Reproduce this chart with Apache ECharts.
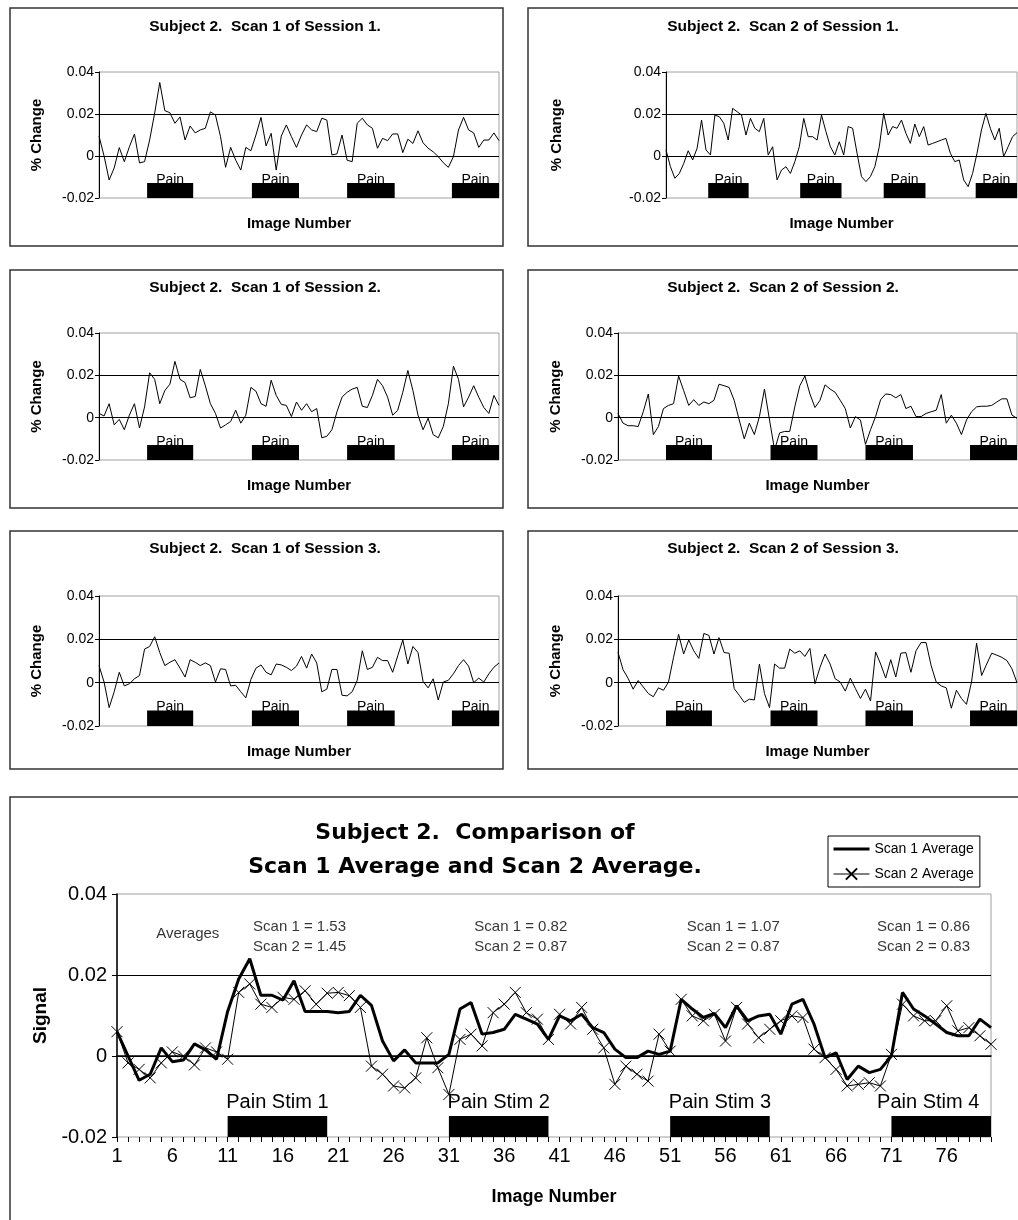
<!DOCTYPE html>
<html>
<head>
<meta charset="utf-8">
<title>Subject 2 - pain scans</title>
<script src="https://cdn.jsdelivr.net/npm/echarts@6/dist/echarts.min.js"></script>
<style>
html, body { margin: 0; padding: 0; background: #fff; }
#main { width: 1018px; height: 1220px; }
</style>
</head>
<body>
<div id="main"></div>
<script>
// % change per image (80 images per scan)
var scan1Session1 = [
    0.0095, 0, -0.0114, -0.0057, 0.004, -0.0027, 0.0044, 0.0105, -0.0033, -0.0027,
    0.0076, 0.0205, 0.035, 0.0216, 0.0206, 0.0156, 0.0186, 0.0076, 0.0143, 0.011,
    0.0124, 0.0132, 0.021, 0.0195, 0.0092, -0.0054, 0.0041, -0.002, -0.0067, 0.0041,
    0.0025, 0.01, 0.0184, 0.0048, 0.0108, -0.0067, 0.0095, 0.0148, 0.0092, 0.0041,
    0.01, 0.0148, 0.0124, 0.0116, 0.018, 0.0171, 0.0005, 0.001, 0.01, -0.002,
    -0.0027, 0.0156, 0.018, 0.0148, 0.0132, 0.0037, 0.0084, 0.0073, 0.0105, 0.0105,
    0.0016, 0.008, 0.006, 0.012, 0.0063, 0.0037, 0.002, -0.0003, -0.0032, -0.0054,
    -0.0003, 0.0124, 0.0184, 0.0124, 0.011, 0.0041, 0.0076, 0.0076, 0.011, 0.0073
];
var scan2Session1 = [
    0.0029, -0.0051, -0.0106, -0.0083, -0.0035, 0.0025, -0.0019, 0.0037, 0.0171, 0.0029,
    0.0005, 0.0195, 0.0187, 0.0156, 0.0076, 0.0227, 0.0211, 0.0195, 0.01, 0.0179,
    0.0132, 0.0116, 0.0179, 0.0005, 0.0044, -0.0114, -0.0067, -0.0051, -0.0083, -0.0027,
    0.0044, 0.0179, 0.0092, 0.0092, 0.0076, 0.0195, 0.0116, 0.0044, 0.0005, 0.0068,
    0.0005, 0.014, 0.0132, 0.0013, -0.0098, -0.0122, -0.0098, -0.0051, 0.0044, 0.0203,
    0.01, 0.014, 0.0132, 0.0171, 0.0108, 0.006, 0.0152, 0.0092, 0.014, 0.0052,
    0.006, 0.0068, 0.0076, 0.0084, 0.0013, -0.0027, -0.0019, -0.0114, -0.0146, -0.0083,
    0.0013, 0.0124, 0.0203, 0.0132, 0.0076, 0.0132, -0.0003, 0.0044, 0.0092, 0.0111
];
var scan1Session2 = [
    0.002, 0.0008, 0.0066, -0.0034, -0.0008, -0.0057, 0.0012, 0.0066, -0.0049, 0.0051,
    0.0212, 0.0181, 0.0066, 0.0128, 0.0158, 0.0266, 0.0181, 0.0166, 0.0094, 0.01,
    0.0228, 0.0151, 0.0066, 0.002, -0.0049, -0.0034, -0.0018, 0.0035, -0.0026, 0.0012,
    0.0143, 0.0125, 0.0066, 0.0054, 0.0177, 0.0105, 0.0063, 0.0058, 0.0005, 0.0074,
    0.0035, 0.0066, 0.0028, 0.0043, -0.0095, -0.0088, -0.0057, 0.0028, 0.0097, 0.012,
    0.0135, 0.0143, 0.0054, 0.0048, 0.0105, 0.0181, 0.0151, 0.0097, 0.0012, 0.0035,
    0.012, 0.0223, 0.0128, 0.0012, -0.0057, -0.0003, -0.008, -0.0095, -0.0042, 0.0066,
    0.0243, 0.0181, 0.0051, 0.0097, 0.0151, 0.0097, 0.0048, 0.002, 0.0105, 0.0058
];
var scan2Session2 = [
    0.002, -0.0026, -0.0038, -0.0038, -0.0042, 0.0028, 0.0112, -0.008, -0.0042, 0.0043,
    0.0058, 0.0066, 0.0197, 0.0128, 0.0058, 0.0085, 0.0058, 0.0074, 0.0066, 0.0082,
    0.0158, 0.0151, 0.0143, 0.0082, -0.0011, -0.01, -0.0026, -0.008, 0.0005, 0.0135,
    -0.0011, -0.0152, -0.0072, -0.0065, -0.0065, 0.0051, 0.0151, 0.0197, 0.0112, 0.0048,
    0.0082, 0.0155, 0.0135, 0.012, 0.0082, 0.0043, -0.0049, 0.0005, -0.0011, -0.0126,
    -0.0057, 0.0005, 0.0085, 0.0112, 0.0109, 0.0094, 0.0109, 0.0043, 0.0054, 0.0005,
    0.0005, 0.002, 0.0028, 0.0035, 0.0109, -0.0026, 0.0012, -0.0026, -0.008, -0.0011,
    0.0028, 0.0051, 0.0054, 0.0054, 0.0058, 0.0074, 0.0089, 0.0089, 0.0012, -0.0003
];
var scan1Session3 = [
    0.0079, 0.0003, -0.0115, -0.0042, 0.0048, -0.0015, -0.0005, 0.0018, 0.0033, 0.0155,
    0.0167, 0.0212, 0.0139, 0.0079, 0.0094, 0.0106, 0.0067, 0.0026, 0.0106, 0.0094,
    0.0079, 0.0091, 0.0079, 0.0003, 0.0064, 0.0061, -0.0015, -0.0012, -0.0042, -0.007,
    0.0015, 0.0067, 0.0082, 0.0048, 0.0036, 0.0086, 0.0082, 0.0071, 0.0056, 0.0076,
    0.0121, 0.0067, 0.0132, 0.0091, -0.0042, -0.003, 0.0061, 0.0061, -0.0058, -0.0061,
    -0.0042, 0.0011, 0.0147, 0.0061, 0.0071, 0.0117, 0.0102, 0.0102, 0.0048, 0.0124,
    0.0197, 0.0086, 0.0167, 0.0139, 0.0006, -0.0024, 0.0018, -0.008, 0.0003, 0.0011,
    0.0041, 0.0079, 0.0106, 0.0076, 0, 0.0021, 0.0003, 0.0041, 0.0071, 0.0091
];
var scan2Session3 = [
    0.014, 0.006, 0.002, -0.003, 0.001, -0.002, -0.005, -0.0065, -0.0024, -0.0035,
    0.0003, 0.0117, 0.0223, 0.0132, 0.0197, 0.0147, 0.0112, 0.0227, 0.0218, 0.0132,
    0.0208, 0.0139, 0.0136, -0.0027, -0.0058, -0.0091, -0.0076, -0.008, 0.0086, -0.005,
    -0.0115, 0.0086, 0.0067, 0.0067, 0.0155, 0.0136, 0.0147, 0.0121, 0.0158, -0.0005,
    0.0071, 0.0132, 0.0086, 0.0018, 0.0003, -0.0039, 0.0021, -0.0027, -0.0073, -0.003,
    -0.0085, 0.0142, 0.0086, 0.0021, 0.0106, 0.0026, 0.0136, 0.0139, 0.0048, 0.0147,
    0.0185, 0.0185, 0.0079, 0.0003, -0.0015, -0.0024, -0.0118, -0.0035, -0.0073, -0.01,
    0.0003, 0.0182, 0.0033, 0.0086, 0.0136, 0.0127, 0.0117, 0.0102, 0.0064, 0
];

// averages over the three sessions
var scan1Average = [
    0.006, 0, -0.006, -0.0045, 0.002, -0.0014, -0.001, 0.003, 0.0015, -0.0008,
    0.011, 0.019, 0.024, 0.015, 0.015, 0.0138, 0.0186, 0.011, 0.011, 0.011,
    0.0107, 0.011, 0.015, 0.0125, 0.0037, -0.0012, 0.0015, -0.0017, -0.0017, -0.0017,
    0.0004, 0.0116, 0.0132, 0.0054, 0.0058, 0.0066, 0.0103, 0.0091, 0.0079, 0.0041,
    0.0099, 0.0087, 0.0103, 0.007, 0.0058, 0.0017, -0.0004, -0.0004, 0.0012, 0.0004,
    0.0012, 0.014, 0.0116, 0.0095, 0.0105, 0.007, 0.0124, 0.0087, 0.0099, 0.0103,
    0.0054, 0.0128, 0.014, 0.0079, -0.0004, 0.0008, -0.0058, -0.0025, -0.0041, -0.0033,
    0, 0.0157, 0.0116, 0.0099, 0.0079, 0.0058, 0.005, 0.005, 0.0091, 0.007
];
var scan2Average = [
    0.006, -0.0017, -0.0033, -0.0054, -0.0017, 0.001, 0, -0.0022, 0.002, 0.001,
    -0.0008, 0.0157, 0.0178, 0.0128, 0.012, 0.0145, 0.014, 0.0161, 0.0128, 0.0155,
    0.0157, 0.0149, 0.012, -0.0025, -0.0045, -0.0074, -0.0079, -0.0054, 0.0045, -0.0029,
    -0.0095, 0.0041, 0.0054, 0.0025, 0.0107, 0.0128, 0.0157, 0.0107, 0.0091, 0.0041,
    0.0103, 0.0079, 0.012, 0.0066, 0.002, -0.007, -0.0025, -0.0045, -0.0062, 0.0054,
    0.0012, 0.014, 0.0099, 0.0087, 0.0103, 0.0037, 0.012, 0.0079, 0.0045, 0.0066,
    0.0087, 0.0099, 0.0095, 0.0017, -0.0004, -0.0033, -0.0074, -0.007, -0.0066, -0.0074,
    0.0004, 0.0128, 0.0099, 0.0087, 0.0087, 0.0124, 0.0062, 0.007, 0.005, 0.0029
];

var panelTitles = [
    'Subject 2.  Scan 1 of Session 1.', 'Subject 2.  Scan 2 of Session 1.',
    'Subject 2.  Scan 1 of Session 2.', 'Subject 2.  Scan 2 of Session 2.',
    'Subject 2.  Scan 1 of Session 3.', 'Subject 2.  Scan 2 of Session 3.'
];
var panelData = [scan1Session1, scan2Session1, scan1Session2, scan2Session2, scan1Session3, scan2Session3];

// pain blocks in the small panels (image numbers)
var painStart = [10.5, 31.2, 50, 70.7];
var painEnd = [19.6, 40.5, 59.4, 80];
// pain blocks in the comparison chart
var stimNames = ['Pain Stim 1', 'Pain Stim 2', 'Pain Stim 3', 'Pain Stim 4'];
var stimStart = [11, 31, 51, 71];
var stimEnd = [20, 40, 60, 80];
// averages per block
var avgScan1 = ['1.53', '0.82', '1.07', '0.86'];
var avgScan2 = ['1.45', '0.87', '0.87', '0.83'];
var avgAt = [17.5, 37.5, 56.7, 73.9];

var FONT = "'Liberation Sans', Arial, sans-serif";
var GREY = '#a0a0a0';

var imageNumbers = [];
for (var n = 1; n <= 80; n++) imageNumbers.push(String(n));

function toPairs(arr) {
    return arr.map(function (v, k) { return [k + 1, v]; });
}

// layout of the six small panels
var panels = [
    {left: 99, top: 72, width: 400, height: 126, gap: 55, cx: 265, ty: 27, bx: 10, by: 8},
    {left: 666, top: 72, width: 351, height: 126, gap: 102, cx: 783, ty: 27, bx: 528, by: 8},
    {left: 99, top: 333, width: 400, height: 127, gap: 55, cx: 265, ty: 288, bx: 10, by: 270},
    {left: 618, top: 333, width: 399, height: 127, gap: 55, cx: 783, ty: 288, bx: 528, by: 270},
    {left: 99, top: 596, width: 400, height: 130, gap: 55, cx: 265, ty: 549, bx: 10, by: 531},
    {left: 618, top: 596, width: 399, height: 130, gap: 55, cx: 783, ty: 549, bx: 528, by: 531}
];

var grids = [], xAxes = [], yAxes = [], series = [], graphics = [];

panels.forEach(function (p, i) {
    grids.push({left: p.left, top: p.top, width: p.width, height: p.height,
        show: true, borderColor: GREY, borderWidth: 1, backgroundColor: 'transparent'});
    xAxes.push({
        gridIndex: i, type: 'value', min: 1, max: 80,
        axisLine: {show: false}, axisTick: {show: false}, axisLabel: {show: false},
        splitLine: {show: false},
        name: 'Image Number', nameLocation: 'middle', nameGap: 18,
        nameTextStyle: {fontFamily: FONT, fontWeight: 'bold', fontSize: 15, color: '#000'}
    });
    yAxes.push({
        gridIndex: i, type: 'value', min: -0.02, max: 0.04, interval: 0.02,
        axisLine: {show: true, lineStyle: {color: '#000', width: 1}},
        axisTick: {show: true, length: 4, lineStyle: {color: '#000'}},
        axisLabel: {fontFamily: FONT, fontSize: 14, color: '#000', margin: 5},
        splitLine: {show: false},
        name: '% Change', nameLocation: 'middle', nameGap: p.gap,
        nameTextStyle: {fontFamily: FONT, fontWeight: 'bold', fontSize: 15, color: '#000'}
    });
    series.push({
        type: 'line', xAxisIndex: i, yAxisIndex: i,
        data: toPairs(panelData[i]),
        symbol: 'none', silent: true,
        lineStyle: {color: '#000', width: 1},
        markLine: {
            silent: true, symbol: 'none', label: {show: false},
            lineStyle: {color: '#000', width: 1, type: 'solid'},
            data: [{yAxis: 0}, {yAxis: 0.02}]
        },
        markArea: {
            silent: true,
            itemStyle: {color: '#000', opacity: 1},
            label: {show: true, position: 'top', distance: -4, color: '#000',
                fontFamily: FONT, fontSize: 14},
            data: painStart.map(function (s, k) {
                return [{name: 'Pain', xAxis: s, yAxis: -0.02}, {xAxis: painEnd[k], yAxis: -0.0129}];
            })
        }
    });
    graphics.push({type: 'rect', shape: {x: p.bx, y: p.by, width: 493, height: 238},
        style: {fill: 'none', stroke: '#333', lineWidth: 1.5}, z: -10});
    graphics.push({type: 'text', x: p.cx, y: p.ty,
        style: {text: panelTitles[i], font: 'bold 15.5px ' + FONT, fill: '#000',
            align: 'center', verticalAlign: 'middle', textAlign: 'center', textVerticalAlign: 'middle'}});
});

// comparison chart
grids.push({left: 117, top: 894, width: 874, height: 243,
    show: true, borderColor: GREY, borderWidth: 1, backgroundColor: 'transparent'});
xAxes.push({
    gridIndex: 6, type: 'value', min: 1, max: 80, interval: 5, position: 'bottom',
    axisLine: {show: true, lineStyle: {color: '#000', width: 1.5}},
    axisTick: {show: false},
    axisLabel: {fontFamily: FONT, fontSize: 20, color: '#000', margin: 9, showMaxLabel: false},
    splitLine: {show: false},
    name: 'Image Number', nameLocation: 'middle', nameGap: 51,
    nameTextStyle: {fontFamily: FONT, fontWeight: 'bold', fontSize: 18, color: '#000'}
});
xAxes.push({
    gridIndex: 6, type: 'category', data: imageNumbers, boundaryGap: false, position: 'bottom',
    axisLine: {show: false},
    axisTick: {show: true, interval: 0, length: 5, lineStyle: {color: '#000'}},
    axisLabel: {show: false}, splitLine: {show: false}
});
yAxes.push({
    gridIndex: 6, type: 'value', min: -0.02, max: 0.04, interval: 0.02,
    axisLine: {show: true, lineStyle: {color: '#000', width: 1.5}},
    axisTick: {show: true, length: 5, lineStyle: {color: '#000'}},
    axisLabel: {fontFamily: FONT, fontSize: 20, color: '#000', margin: 10},
    splitLine: {show: false},
    name: 'Signal', nameLocation: 'middle', nameGap: 67,
    nameTextStyle: {fontFamily: FONT, fontWeight: 'bold', fontSize: 19, color: '#000'}
});

series.push({
    name: 'Scan 2 Average', type: 'line', xAxisIndex: 6, yAxisIndex: 6,
    data: toPairs(scan2Average),
    symbol: 'path://M0,0L10,10M10,0L0,10', symbolSize: 11,
    itemStyle: {color: '#000', borderColor: '#000', borderWidth: 1},
    lineStyle: {color: '#000', width: 1}, silent: true
});
series.push({
    name: 'Scan 1 Average', type: 'line', xAxisIndex: 6, yAxisIndex: 6,
    data: toPairs(scan1Average),
    symbol: 'none', silent: true,
    itemStyle: {color: '#000'},
    lineStyle: {color: '#000', width: 3},
    markLine: {
        silent: true, symbol: 'none', label: {show: false},
        lineStyle: {color: '#000', width: 1, type: 'solid'},
        data: [{yAxis: 0}, {yAxis: 0.02}]
    },
    markArea: {
        silent: true,
        itemStyle: {color: '#000', opacity: 1},
        label: {show: true, position: 'top', distance: 3, color: '#000',
            fontFamily: FONT, fontSize: 20},
        data: stimNames.map(function (s, k) {
            return [{name: s, xAxis: stimStart[k], yAxis: -0.02,
                label: k === 3 ? {offset: [-13, 0]} : undefined},
                {xAxis: stimEnd[k], yAxis: -0.0148}];
        })
    }
});

// block averages written inside the plot
var notes = [[7.4, 0.0302, 'Averages']];
avgAt.forEach(function (x, k) {
    notes.push([x, 0.0295, 'Scan 1 = ' + avgScan1[k] + '\nScan 2 = ' + avgScan2[k]]);
});
series.push({
    type: 'scatter', xAxisIndex: 6, yAxisIndex: 6, data: notes,
    symbolSize: 1, itemStyle: {color: 'rgba(0,0,0,0)'}, silent: true,
    label: {show: true, position: 'inside', color: '#000', fontFamily: FONT,
        fontSize: 15, lineHeight: 20,
        formatter: function (p) { return p.value[2]; }}
});

graphics.push({type: 'rect', shape: {x: 10, y: 797, width: 1020, height: 440},
    style: {fill: 'none', stroke: '#333', lineWidth: 1.5}, z: -10});
graphics.push({type: 'text', x: 475, y: 833,
    style: {text: 'Subject 2.  Comparison of', font: "bold 22px 'DejaVu Sans', sans-serif", fill: '#000',
        align: 'center', verticalAlign: 'middle', textAlign: 'center', textVerticalAlign: 'middle'}});
graphics.push({type: 'text', x: 475, y: 867,
    style: {text: 'Scan 1 Average and Scan 2 Average.', font: "bold 22px 'DejaVu Sans', sans-serif", fill: '#000',
        align: 'center', verticalAlign: 'middle', textAlign: 'center', textVerticalAlign: 'middle'}});

var myChart = echarts.init(document.getElementById('main'), null, {renderer: 'canvas'});

var option = {
    animation: false,
    backgroundColor: '#fff',
    grid: grids,
    xAxis: xAxes,
    yAxis: yAxes,
    series: series,
    legend: {
        data: [
            {name: 'Scan 1 Average', itemStyle: {color: 'rgba(0,0,0,0)', borderWidth: 0, opacity: 0},
                lineStyle: {color: '#000', width: 3}},
            {name: 'Scan 2 Average', lineStyle: {color: '#000', width: 1}}
        ],
        left: 828, top: 836, orient: 'vertical',
        itemWidth: 36, itemHeight: 14, itemGap: 11,
        padding: [6, 6, 6, 4],
        borderColor: '#000', borderWidth: 1, backgroundColor: '#fff',
        textStyle: {fontFamily: FONT, fontSize: 14, color: '#000'},
        selectedMode: false
    },
    graphic: graphics
};

myChart.setOption(option);
</script>
</body>
</html>
